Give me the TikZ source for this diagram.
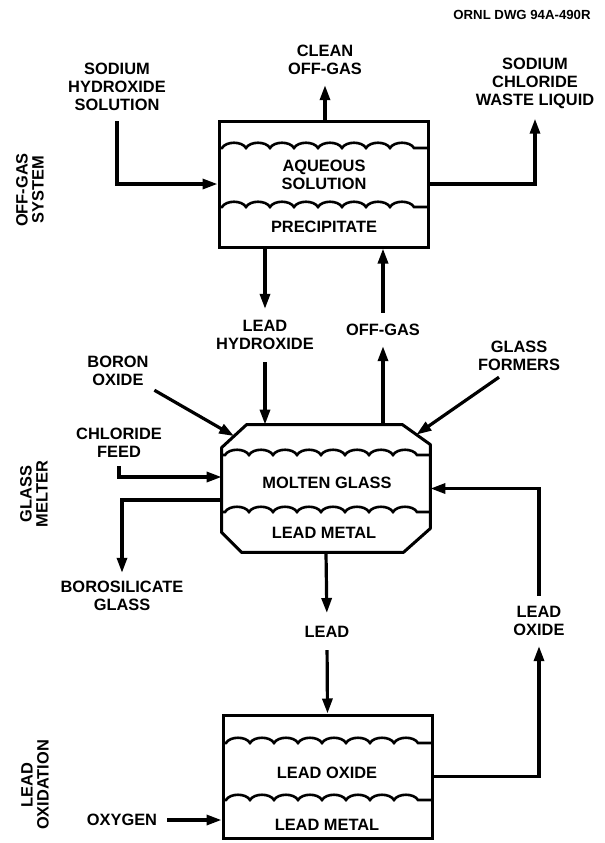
\documentclass[tikz,border=0pt]{standalone}
\usepackage{fontspec}
\setsansfont{Liberation Sans}
\usetikzlibrary{arrows.meta,calc}
\begin{document}
\begin{tikzpicture}[x=0.5pt,y=-0.5pt,
  lbl/.style={font=\sffamily\bfseries\fontsize{8.2}{9}\selectfont, align=center, inner sep=1pt},
  side/.style={lbl, rotate=90, font=\sffamily\bfseries\fontsize{8.2}{8}\selectfont},
  vessel/.style={draw, line width=1.5pt, inner sep=0pt},
  outline/.style={line width=1.5pt, line join=round},
  flow/.style={line width=1.6pt, -{Triangle[length=7.5pt,width=5pt]}},
  wavy/.style={line width=1.3pt}]
\useasboundingbox (0,0) rectangle (605,843);

% ---------- off-gas system ----------
\node[lbl, font=\sffamily\bfseries\fontsize{6.6}{7}\selectfont] (dwg) at (522,15) {ORNL DWG 94A-490R};
\node[lbl] (clean) at (325,60) {CLEAN\\OFF-GAS};
\node[lbl] (naoh) at (117,87) {SODIUM\\HYDROXIDE\\SOLUTION};
\node[lbl] (nacl) at (535,83) {SODIUM\\CHLORIDE\\WASTE LIQUID};
\node[vessel, minimum width=104.5pt, minimum height=63pt] (scrub) at (323.5,184) {};
\node[lbl] (aq) at (324,175) {AQUEOUS\\SOLUTION};
\node[lbl] (ppt) at (324,227) {PRECIPITATE};
\node[side] (ogs) at (30,190) {OFF-GAS\\SYSTEM};
\draw[wavy] (219,148) -- ++(3,0) foreach \i in {1,...,8}{ .. controls +(4,-7) and +(-4,-7) .. ++(24,0)} -- (428,148);
\draw[wavy] (219,207) -- ++(3,0) foreach \i in {1,...,8}{ .. controls +(4,-7) and +(-4,-7) .. ++(24,0)} -- (428,207);

% ---------- glass melter ----------
\node[lbl] (pbhyd) at (265,335) {LEAD\\HYDROXIDE};
\node[lbl] (offgas) at (383,330) {OFF-GAS};
\node[lbl] (boron) at (118,371) {BORON\\OXIDE};
\node[lbl] (formers) at (519,356) {GLASS\\FORMERS};
\node[lbl] (clfeed) at (119,443) {CHLORIDE\\FEED};
\node[inner sep=0pt, minimum width=104pt, minimum height=63.5pt] (melt) at (326,488.5) {};
\coordinate (m1) at ([xshift=12.5pt]melt.north west);
\coordinate (m2) at ([xshift=-14pt]melt.north east);
\coordinate (m3) at ([yshift=-10pt]melt.north east);
\coordinate (m4) at ([yshift=12pt]melt.south east);
\coordinate (m5) at ([xshift=-13.5pt]melt.south east);
\coordinate (m6) at ([xshift=10pt]melt.south west);
\coordinate (m7) at ([yshift=10pt]melt.south west);
\coordinate (m8) at ([yshift=-11.5pt]melt.north west);
\draw[outline] (m1)--(m2)--(m3)--(m4)--(m5)--(m6)--(m7)--(m8)--cycle;
\draw[wavy] (222,455) -- ++(3,0) foreach \i in {1,...,8}{ .. controls +(4,-7) and +(-4,-7) .. ++(24,0)} -- (430,455);
\draw[wavy] (222,512) -- ++(3,0) foreach \i in {1,...,8}{ .. controls +(4,-7) and +(-4,-7) .. ++(24,0)} -- (430,512);
\node[lbl] (molten) at (327,483) {MOLTEN GLASS};
\node[lbl] (pbmet1) at (324,533) {LEAD METAL};
\node[side] (gm) at (34,494) {GLASS\\MELTER};
\node[lbl] (boro) at (122,596) {BOROSILICATE\\GLASS};

% ---------- lead oxidation ----------
\node[lbl] (lead) at (327,632) {LEAD};
\node[lbl] (pbo) at (539,621) {LEAD\\OXIDE};
\node[vessel, minimum width=104.5pt, minimum height=61.5pt] (oxid) at (327.5,776.5) {};
\draw[wavy] (223,743) -- ++(3,0) foreach \i in {1,...,8}{ .. controls +(4,-7) and +(-4,-7) .. ++(24,0)} -- (432,743);
\draw[wavy] (223,800) -- ++(3,0) foreach \i in {1,...,8}{ .. controls +(4,-7) and +(-4,-7) .. ++(24,0)} -- (432,800);
\node[lbl] (pbox) at (327,773) {LEAD OXIDE};
\node[lbl] (pbmet2) at (327,825) {LEAD METAL};
\node[lbl] (oxy) at (122,820) {OXYGEN};
\node[side] (lo) at (35,785) {LEAD\\OXIDATION};

% ---------- connectors ----------
\draw[flow, shorten <=4pt] (naoh.south) |- (scrub.west);
\draw[flow, shorten >=4pt] (scrub.east) -| (nacl.south);
\draw[flow, shorten >=4pt] (scrub.north -| clean.south) -- (clean.south);
\draw[flow, shorten >=4.5pt] (scrub.south -| pbhyd.north) -- (pbhyd.north);
\draw[flow, shorten <=5pt] (pbhyd.south) -- (pbhyd.south |- melt.north);
\draw[flow, shorten >=4pt] (melt.north -| offgas.south) -- (offgas.south);
\draw[flow, shorten <=4.5pt] (offgas.north) -- (offgas.north |- scrub.south);
\draw[flow, shorten <=2pt] (boron.south east) -- ($(m8)!0.5!(m1)$);
\draw[flow] ([xshift=-10pt,yshift=-2pt]formers.south) -- ($(m2)!0.5!(m3)$);
\draw[flow, shorten <=3pt] (clfeed.south) |- ([yshift=5.75pt]melt.west);
\draw[flow, shorten >=3pt] ([yshift=-5.75pt]melt.west) -| (boro.north);
\draw[flow, shorten >=5.5pt] (melt.south) -- (lead.north);
\draw[flow, shorten <=5pt] (lead.south) -- (oxid.north);
\draw[flow, shorten >=4pt] (oxid.east) -| (pbo.south);
\draw[flow, shorten <=4pt] (pbo.north) |- (melt.east);
\draw[flow, shorten <=4pt] (oxy.east) -- (oxy.east -| oxid.west);
\end{tikzpicture}
\end{document}
